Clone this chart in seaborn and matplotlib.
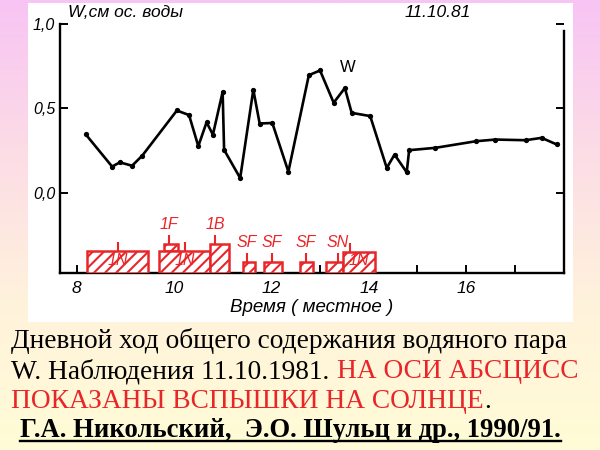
import numpy as np
import matplotlib
matplotlib.use("Agg")
import matplotlib.pyplot as plt
import seaborn as sns
from matplotlib.colors import LinearSegmentedColormap
from matplotlib.patches import Rectangle
from matplotlib.lines import Line2D
from matplotlib.ticker import FixedLocator

# total water vapour W (cm of precipitable water), 11.10.1981, local time
hours = [8.19, 8.73, 8.89, 9.14, 9.35, 10.06, 10.31, 10.50, 10.67, 10.80, 11.00, 11.03,
         11.36, 11.63, 11.76, 12.02, 12.35, 12.77, 13.00, 13.28, 13.51, 13.65, 14.03,
         14.37, 14.53, 14.78, 14.83, 15.37, 16.20, 16.60, 17.22, 17.55, 17.86]
w = [0.345, 0.155, 0.18, 0.16, 0.22, 0.487, 0.46, 0.276, 0.417, 0.344, 0.597, 0.254,
     0.087, 0.61, 0.41, 0.413, 0.125, 0.696, 0.724, 0.533, 0.62, 0.473, 0.454,
     0.147, 0.226, 0.121, 0.252, 0.266, 0.305, 0.315, 0.311, 0.325, 0.286]

# solar flares shown along the time axis
flare_class = ['1N', '1F', '1N', '1B', 'SF', 'SF', 'SF', 'SN', '1N']
flare_start = [8.22, 9.80, 9.70, 10.75, 11.42, 11.84, 12.58, 13.12, 13.48]
flare_end = [9.47, 10.08, 10.75, 11.14, 11.66, 12.22, 12.86, 13.48, 14.13]
flare_peak = [8.85, 9.90, 10.23, 10.85, 11.50, 12.01, 12.71, 13.37, 13.61]
flare_base = [-0.476, -0.345, -0.476, -0.476, -0.476, -0.476, -0.476, -0.476, -0.476]
flare_top = [-0.345, -0.304, -0.345, -0.304, -0.409, -0.409, -0.409, -0.409, -0.35]

x_ticks = [8, 10, 12, 14, 16]
y_ticks = [0.0, 0.5, 1.0]
y_ticklabels = ['0,0', '0,5', '1,0']

RED = '#e8262a'
plt.rcParams['hatch.linewidth'] = 1.5

fig = plt.figure(figsize=(6, 4.5), dpi=100)

# slide background: pink to pale yellow
bg = fig.add_axes([0, 0, 1, 1], zorder=-2)
cmap = LinearSegmentedColormap.from_list('bg', ['#f8c4f4', '#fcdce6', '#fff2dc', '#fffcd6'])
bg.imshow(np.linspace(0, 1, 256)[:, None], aspect='auto', cmap=cmap, extent=[0, 1, 0, 1])
bg.axis('off')
fig.add_artist(Rectangle((0.047, 0.284), 0.908, 0.709, transform=fig.transFigure,
                         facecolor='white', edgecolor='none', zorder=-1))

ax = fig.add_axes([0.1, 0.393, 0.84, 0.554])
ax.patch.set_alpha(0)

sns.lineplot(x=hours, y=w, ax=ax, color='black', lw=1.9, marker='o',
             markersize=3.8, markeredgewidth=0, sort=False)

widths = [e - s for s, e in zip(flare_start, flare_end)]
heights = [t - b for t, b in zip(flare_top, flare_base)]
ax.bar(flare_start, heights, width=widths, bottom=flare_base, align='edge',
       facecolor='white', edgecolor=RED, hatch='///', lw=1.8, zorder=3)
ax.vlines(flare_peak, flare_top, [t + 0.055 for t in flare_top], color=RED, lw=1.5, zorder=3)

for c, s, e, p, t in zip(flare_class, flare_start, flare_end, flare_peak, flare_top):
    if c == '1N':
        ax.text((s + e) / 2, -0.40, c, color=RED, fontsize=11.5, style='italic',
                family='Liberation Sans', ha='center', va='center', zorder=4)
    else:
        ax.text(p, t + 0.115, c, color=RED, fontsize=11.5, style='italic',
                family='Liberation Sans', ha='center', va='center', zorder=4)

ax.text(13.58, 0.70, 'W', fontsize=12, family='Liberation Sans', ha='center', va='bottom')

ax.set_xlim(7.66, 18.01)
ax.set_ylim(-0.476, 1.0)
ax.spines['top'].set_visible(False)
ax.spines['right'].set_bounds(-0.476, 0.96)
for sp in ['left', 'right', 'bottom']:
    ax.spines[sp].set_linewidth(1.7)

ax.xaxis.set_major_locator(FixedLocator(x_ticks))
ax.xaxis.set_minor_locator(FixedLocator([9, 11, 13, 15, 17]))
ax.set_xticklabels([str(v) for v in x_ticks], fontsize=12.5, style='italic', family='Liberation Sans')
ax.set_yticks(y_ticks)
ax.set_yticklabels(y_ticklabels, fontsize=11.5, style='italic', family='Liberation Sans')
ax.tick_params(axis='both', which='both', direction='in', length=6, width=1.4, right=True)
ax.tick_params(axis='x', pad=6)
ax.set_xlabel('Время ( местное )', fontsize=13.5, style='italic', family='Liberation Sans', labelpad=2)
ax.set_ylabel('')

fig.text(0.113, 0.973, 'W,см ос. воды', fontsize=12.5, style='italic', family='Liberation Sans', va='center')
fig.text(0.675, 0.973, '11.10.81', fontsize=12.5, style='italic', family='Liberation Sans', va='center')

# caption under the chart
renderer = fig.canvas.get_renderer()


def put_line(x, y, pieces, **kw):
    for s, c in pieces:
        t = fig.text(x, y, s, color=c, va='baseline', **kw)
        bb = t.get_window_extent(renderer=renderer)
        x = fig.transFigure.inverted().transform((bb.x1, bb.y0))[0]
    return t


cap = dict(fontsize=19.7, family='Liberation Serif')
put_line(0.019, 0.227, [('Дневной ход общего содержания водяного пара', 'black')], **cap)
put_line(0.019, 0.160, [('W. Наблюдения 11.10.1981. ', 'black'), ('НА ОСИ АБСЦИСС', RED)], **cap)
put_line(0.019, 0.093, [('ПОКАЗАНЫ ВСПЫШКИ НА СОЛНЦЕ', RED), ('.', 'black')], **cap)
ref = fig.text(0.034, 0.029, 'Г.А. Никольский,  Э.О. Шульц и др., 1990/91.',
               fontsize=19.2, family='Liberation Serif', weight='bold', va='baseline')
bb = ref.get_window_extent(renderer=renderer)
x0, x1 = fig.transFigure.inverted().transform([(bb.x0, 0), (bb.x1, 0)])[:, 0]
fig.add_artist(Line2D([x0, x1], [0.020, 0.020], transform=fig.transFigure, color='black', lw=1.7))

fig.savefig('out.png', dpi=100)
